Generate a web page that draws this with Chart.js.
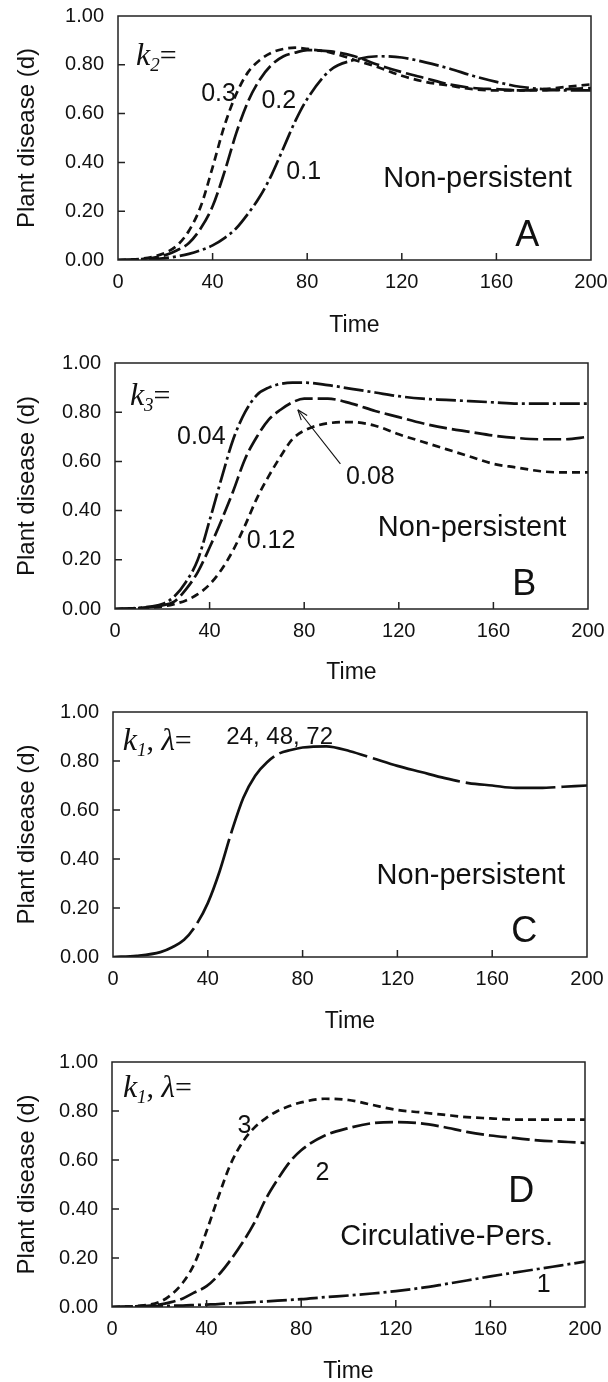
<!DOCTYPE html>
<html>
<head>
<meta charset="utf-8">
<script src="https://cdn.jsdelivr.net/npm/chart.js@4.4.1/dist/chart.umd.min.js"></script>
<style>
  html, body { margin: 0; padding: 0; overflow: hidden; background: #fff; }
  #wrap { position: relative; width: 608px; height: 1382px; }
  .panel { position: absolute; left: 0; width: 608px; height: 347px; }
</style>
</head>
<body>
<div id="wrap">
  <div class="panel" id="pA"><canvas id="chartA" width="608" height="347"></canvas></div>
  <div class="panel" id="pB"><canvas id="chartB" width="608" height="347"></canvas></div>
  <div class="panel" id="pC"><canvas id="chartC" width="608" height="347"></canvas></div>
  <div class="panel" id="pD"><canvas id="chartD" width="608" height="347"></canvas></div>
</div>
<script>
// time points shared by every curve
const time = [0, 10, 20, 25, 30, 35, 40, 45, 50, 55, 60, 65, 70, 75, 80, 90, 100, 110, 120, 130, 140, 150, 160, 170, 180, 190, 200];

// Panel A - k2
const a_k2_03 = [0, 0.005, 0.03, 0.06, 0.12, 0.22, 0.38, 0.55, 0.68, 0.77, 0.82, 0.85, 0.865, 0.87, 0.865, 0.85, 0.82, 0.79, 0.755, 0.73, 0.715, 0.70, 0.695, 0.695, 0.70, 0.71, 0.72];
const a_k2_02 = [0, 0.004, 0.02, 0.04, 0.07, 0.13, 0.22, 0.36, 0.52, 0.65, 0.74, 0.80, 0.835, 0.85, 0.86, 0.855, 0.835, 0.80, 0.77, 0.745, 0.72, 0.705, 0.70, 0.695, 0.695, 0.70, 0.705];
const a_k2_01 = [0, 0.002, 0.008, 0.015, 0.025, 0.04, 0.06, 0.09, 0.13, 0.19, 0.26, 0.35, 0.46, 0.57, 0.66, 0.78, 0.82, 0.835, 0.83, 0.81, 0.785, 0.755, 0.73, 0.71, 0.70, 0.695, 0.695];

// Panel B - k3
const b_k3_004 = [0, 0.005, 0.02, 0.05, 0.11, 0.20, 0.36, 0.53, 0.69, 0.80, 0.87, 0.90, 0.915, 0.92, 0.92, 0.91, 0.895, 0.88, 0.865, 0.855, 0.85, 0.845, 0.84, 0.835, 0.835, 0.835, 0.835];
const b_k3_008 = [0, 0.004, 0.015, 0.03, 0.08, 0.15, 0.25, 0.36, 0.48, 0.61, 0.70, 0.77, 0.81, 0.84, 0.855, 0.855, 0.835, 0.805, 0.78, 0.755, 0.735, 0.72, 0.705, 0.695, 0.69, 0.69, 0.70];
const b_k3_012 = [0, 0.003, 0.01, 0.02, 0.035, 0.06, 0.10, 0.16, 0.24, 0.34, 0.45, 0.54, 0.62, 0.69, 0.725, 0.755, 0.76, 0.745, 0.71, 0.68, 0.65, 0.62, 0.59, 0.575, 0.56, 0.555, 0.555];

// Panel C - k1, lambda = 24, 48, 72 (one overlapping curve)
const c_k1 = [0, 0.005, 0.02, 0.04, 0.07, 0.13, 0.22, 0.35, 0.51, 0.65, 0.74, 0.795, 0.83, 0.845, 0.855, 0.86, 0.84, 0.81, 0.78, 0.755, 0.73, 0.71, 0.70, 0.69, 0.69, 0.695, 0.70];

// Panel D - k1, lambda = 1, 2, 3
const d_k1_3 = [0, 0.004, 0.02, 0.05, 0.10, 0.18, 0.31, 0.45, 0.58, 0.67, 0.73, 0.77, 0.80, 0.82, 0.835, 0.85, 0.845, 0.825, 0.805, 0.795, 0.785, 0.775, 0.77, 0.765, 0.765, 0.765, 0.765];
const d_k1_2 = [0, 0.003, 0.01, 0.02, 0.035, 0.06, 0.085, 0.13, 0.19, 0.26, 0.34, 0.44, 0.52, 0.59, 0.64, 0.70, 0.73, 0.75, 0.755, 0.75, 0.735, 0.715, 0.70, 0.69, 0.68, 0.675, 0.67];
const d_k1_1 = [0, 0.002, 0.004, 0.005, 0.006, 0.008, 0.01, 0.012, 0.015, 0.017, 0.02, 0.023, 0.026, 0.029, 0.032, 0.04, 0.047, 0.055, 0.065, 0.077, 0.092, 0.108, 0.125, 0.14, 0.155, 0.17, 0.185];

// axis ticks
const xTicks = [0, 40, 80, 120, 160, 200];
const yTicks = [0, 0.2, 0.4, 0.6, 0.8, 1.0];

// layout (pixels on the page)
const plotTop = [16, 363, 712, 1062];
const plotHeight = [244, 246, 245, 245];
const plotLeft = [118, 115, 113, 112];
const plotRight = [591, 588, 587, 585];
const canvasH = 347;

const SANS = "'Liberation Sans', Arial, Helvetica, sans-serif";
const SERIF = "'Liberation Serif', 'Times New Roman', serif";
const INK = '#111';

const SHORT = [8, 5];
const LONG = [18, 5];
const DASHDOT = [20, 4, 3, 4];

function series(values, dash) {
  return {
    data: time.map((t, i) => ({ x: t, y: values[i] })),
    borderColor: INK,
    borderWidth: 2.7,
    borderDash: dash,
    pointRadius: 0,
    fill: false,
    cubicInterpolationMode: 'monotone'
  };
}

// draws "k_sub=" / "k_sub, λ=" labels in italic serif
function drawKLabel(ctx, x, y, sub, withLambda) {
  ctx.textBaseline = 'alphabetic';
  ctx.textAlign = 'left';
  let cx = x;
  ctx.font = 'italic 32px ' + SERIF;
  ctx.fillText('k', cx, y);
  cx += ctx.measureText('k').width;
  ctx.font = 'italic 19px ' + SERIF;
  ctx.fillText(sub, cx, y + 6);
  cx += ctx.measureText(sub).width;
  ctx.font = '30px ' + SERIF;
  if (withLambda) {
    ctx.fillText(', ', cx, y);
    cx += ctx.measureText(', ').width;
    ctx.font = 'italic 31px ' + SERIF;
    ctx.fillText('λ', cx, y);
    cx += ctx.measureText('λ').width;
    ctx.font = '30px ' + SERIF;
  }
  ctx.fillText('=', cx, y);
}

const framePlugin = {
  id: 'frame',
  afterDraw(chart, args, opts) {
    const { ctx, chartArea: a, scales: { x, y } } = chart;
    ctx.save();
    ctx.strokeStyle = '#222';
    ctx.lineWidth = 1.5;
    ctx.strokeRect(a.left, a.top, a.right - a.left, a.bottom - a.top);
    // inward tick marks
    ctx.beginPath();
    x.ticks.forEach(t => {
      if (t.value > 0 && t.value < 200) {
        const px = x.getPixelForValue(t.value);
        ctx.moveTo(px, a.bottom);
        ctx.lineTo(px, a.bottom - 7);
      }
    });
    y.ticks.forEach(t => {
      if (t.value > 0.001 && t.value < 0.999) {
        const py = y.getPixelForValue(t.value);
        ctx.moveTo(a.left, py);
        ctx.lineTo(a.left + 7, py);
      }
    });
    ctx.stroke();

    ctx.fillStyle = INK;
    (opts.notes || []).forEach(n => {
      const px = x.getPixelForValue(n.t);
      const py = y.getPixelForValue(n.d);
      if (n.k) {
        drawKLabel(ctx, px, py + 10, n.k, n.lambda);
        return;
      }
      ctx.font = n.size + 'px ' + SANS;
      ctx.textAlign = n.align || 'center';
      ctx.textBaseline = 'middle';
      ctx.fillText(n.text, px, py);
    });

    if (opts.arrow) {
      const [t0, d0, t1, d1] = opts.arrow;
      const x0 = x.getPixelForValue(t0), y0 = y.getPixelForValue(d0);
      const x1 = x.getPixelForValue(t1), y1 = y.getPixelForValue(d1);
      const ang = Math.atan2(y1 - y0, x1 - x0);
      ctx.strokeStyle = INK;
      ctx.lineWidth = 1.1;
      ctx.beginPath();
      ctx.moveTo(x0, y0);
      ctx.lineTo(x1, y1);
      ctx.stroke();
      ctx.beginPath();
      ctx.moveTo(x1, y1);
      ctx.lineTo(x1 - 11 * Math.cos(ang - 0.35), y1 - 11 * Math.sin(ang - 0.35));
      ctx.moveTo(x1, y1);
      ctx.lineTo(x1 - 11 * Math.cos(ang + 0.35), y1 - 11 * Math.sin(ang + 0.35));
      ctx.stroke();
    }
    ctx.restore();
  }
};

function makePanel(idx, canvasId, datasets, notes, arrow) {
  document.getElementById(canvasId).parentNode.style.top = (plotTop[idx] - 16) + 'px';
  const xHeight = canvasH - 16 - plotHeight[idx];
  return new Chart(document.getElementById(canvasId).getContext('2d'), {
    type: 'line',
    data: { datasets: datasets },
    options: {
      responsive: false,
      animation: false,
      layout: { padding: { left: 0, right: 608 - plotRight[idx], top: 16, bottom: 0 } },
      plugins: {
        legend: { display: false },
        tooltip: { enabled: false },
        frame: { notes: notes, arrow: arrow }
      },
      scales: {
        x: {
          type: 'linear',
          min: 0,
          max: 200,
          afterBuildTicks: s => { s.ticks = xTicks.map(v => ({ value: v })); },
          ticks: { color: INK, font: { family: SANS, size: 20 }, padding: 10, maxRotation: 0 },
          grid: { display: false, drawTicks: false },
          border: { display: false },
          title: { display: true, text: 'Time', color: INK, font: { family: SANS, size: 23 }, padding: { top: 0, bottom: 8 } },
          afterFit: s => { s.height = xHeight; s.paddingLeft = 0; s.paddingRight = 0; }
        },
        y: {
          min: 0,
          max: 1,
          afterBuildTicks: s => { s.ticks = yTicks.map(v => ({ value: v })); },
          ticks: { color: INK, font: { family: SANS, size: 20 }, padding: 14, callback: v => v.toFixed(2) },
          grid: { display: false, drawTicks: false },
          border: { display: false },
          title: { display: true, text: 'Plant disease (d)', color: INK, font: { family: SANS, size: 24 }, padding: { top: 13, bottom: 0 } },
          afterFit: s => { s.width = plotLeft[idx]; s.paddingTop = 0; s.paddingBottom = 0; }
        }
      }
    },
    plugins: [framePlugin]
  });
}

makePanel(0, 'chartA',
  [series(a_k2_03, SHORT), series(a_k2_02, LONG), series(a_k2_01, DASHDOT)],
  [
    { t: 7.6, d: 0.84, k: '2' },
    { t: 42.5, d: 0.68, text: '0.3', size: 25 },
    { t: 68, d: 0.65, text: '0.2', size: 25 },
    { t: 78.5, d: 0.36, text: '0.1', size: 25 },
    { t: 152, d: 0.33, text: 'Non-persistent', size: 29 },
    { t: 173, d: 0.10, text: 'A', size: 36 }
  ]);

makePanel(1, 'chartB',
  [series(b_k3_004, DASHDOT), series(b_k3_008, LONG), series(b_k3_012, SHORT)],
  [
    { t: 6.3, d: 0.87, k: '3' },
    { t: 36.5, d: 0.70, text: '0.04', size: 25 },
    { t: 108, d: 0.535, text: '0.08', size: 25 },
    { t: 66, d: 0.276, text: '0.12', size: 25 },
    { t: 151, d: 0.33, text: 'Non-persistent', size: 29 },
    { t: 173, d: 0.098, text: 'B', size: 36 }
  ],
  [95.3, 0.59, 77.3, 0.81]);

makePanel(2, 'chartC',
  [series(c_k1, [90, 6])],
  [
    { t: 4.1, d: 0.886, k: '1', lambda: true },
    { t: 47.8, d: 0.898, text: '24, 48, 72', size: 24, align: 'left' },
    { t: 151, d: 0.33, text: 'Non-persistent', size: 29 },
    { t: 173.5, d: 0.10, text: 'C', size: 36 }
  ]);

makePanel(3, 'chartD',
  [series(d_k1_3, SHORT), series(d_k1_2, LONG), series(d_k1_1, DASHDOT)],
  [
    { t: 4.6, d: 0.898, k: '1', lambda: true },
    { t: 56, d: 0.74, text: '3', size: 25 },
    { t: 89, d: 0.545, text: '2', size: 25 },
    { t: 182.5, d: 0.089, text: '1', size: 25 },
    { t: 141.5, d: 0.286, text: 'Circulative-Pers.', size: 29 },
    { t: 173, d: 0.47, text: 'D', size: 36 }
  ]);
</script>
</body>
</html>
